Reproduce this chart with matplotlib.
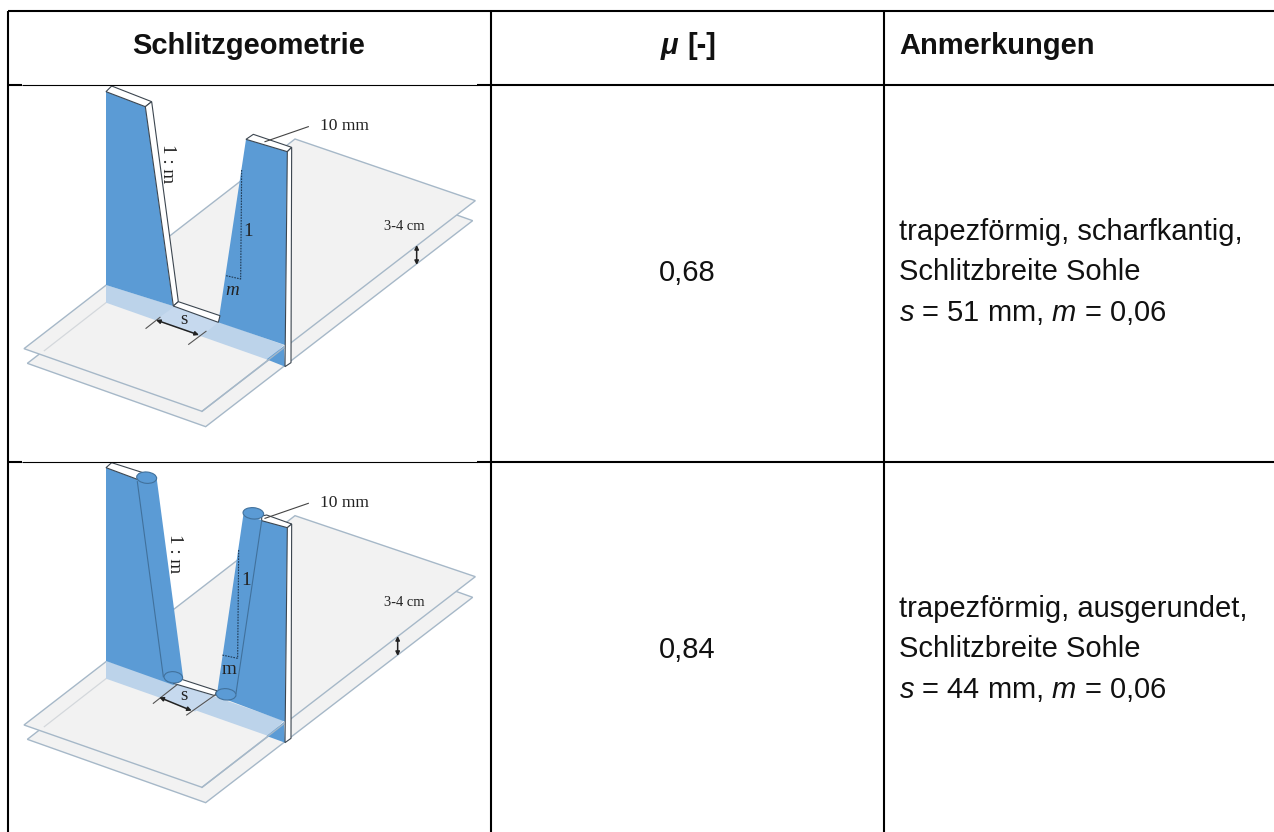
import matplotlib
matplotlib.use("Agg")
import matplotlib.pyplot as plt
from matplotlib.patches import Polygon, Ellipse

plt.rcParams["font.family"] = "Liberation Sans"
plt.rcParams["mathtext.fontset"] = "custom"
plt.rcParams["mathtext.rm"] = "Liberation Sans"
plt.rcParams["mathtext.it"] = "Liberation Sans:italic"

# Tabelleninhalt
kopf = ["Schlitzgeometrie", "[-]", "Anmerkungen"]
mu_werte = ["0,68", "0,84"]
anmerkungen = [
    ["trapezförmig, scharfkantig,", "Schlitzbreite Sohle", "$s$ = 51 mm, $m$ = 0,06"],
    ["trapezförmig, ausgerundet,", "Schlitzbreite Sohle", "$s$ = 44 mm, $m$ = 0,06"],
]

# Gitterlinien der Tabelle (Pixel)
spalten_x = [8, 490.5, 884]
zeilen_y = [11, 84.5, 462]

BLAU = "#5b9bd5"
HELLBLAU = "#bcd3ea"
MITTELBLAU = "#c6d9ee"
GRAU = "#f2f2f2"
KANTE = "#a6b8c8"
DUNKEL = "#3c4650"

# Skizzen, Koordinaten in 3-fach vergroesserten Pixeln
skizze1 = {
    "dy": 70,
    "platte_oben": [(72, 836), (885, 207), (1426, 392), (606, 1024)],
    "platte_unten": [(82, 880), (883, 262), (1418, 452), (617, 1070)],
    "innenlinie": [(133, 842), (318, 698)],
    "band": [(318, 645), (520, 708), (655, 755), (852, 825), (805, 870), (318, 698)],
    "schlitz": [(520, 712), (655, 757), (602, 800), (470, 748)],
    "dreieck": [(852, 828), (855, 890), (800, 868)],
    "wand_l": [(318, 65), (436, 110), (519, 708), (318, 645)],
    "wand_r": [(738, 208), (862, 245), (855, 825), (655, 757)],
    "weiss": [
        [(318, 65), (335, 48), (455, 95), (436, 110)],
        [(436, 110), (455, 95), (535, 695), (520, 708)],
        [(520, 708), (535, 695), (660, 737), (655, 757)],
        [(738, 208), (760, 193), (875, 232), (862, 245)],
        [(862, 245), (875, 232), (873, 878), (855, 890)],
    ],
    "ellipsen": [],
    "zyl_linien": [],
    "punkte": [(725, 300), (722, 627), (678, 617)],
    "kante_vorn": [(606, 1024), (852, 833)],
    "fuehrung": [(925, 170), (795, 215)],
    "pfeil_h": [(1250, 525), (1250, 585)],
    "pfeil_s": [(468, 750), (597, 795)],
    "striche": [[(438, 775), (480, 742)], [(566, 823), (618, 784)]],
    "texte": [
        ("1 : m", 503, 282, 19, -90, "normal"),
        ("1", 743, 483, 19, 0, "normal"),
        ("m", 697, 662, 19, 0, "italic"),
        ("s", 553, 750, 19, 0, "normal"),
        ("10 mm", 1033, 167, 17.5, 0, "normal"),
        ("3-4 cm", 1212, 468, 14.5, 0, "normal"),
    ],
}

skizze2 = {
    "dy": 450,
    "platte_oben": [(72, 825), (885, 197), (1426, 380), (606, 1012)],
    "platte_unten": [(82, 868), (883, 250), (1418, 442), (617, 1058)],
    "innenlinie": [(133, 830), (318, 686)],
    "band": [(318, 633), (520, 697), (645, 740), (852, 812), (805, 858), (318, 686)],
    "schlitz": [(525, 705), (645, 740), (585, 785), (480, 745)],
    "dreieck": [(852, 816), (855, 878), (800, 858)],
    "wand_l": [(318, 53), (412, 88), (470, 85), (549, 680), (520, 705), (318, 633)],
    "wand_r": [(730, 195), (785, 210), (862, 233), (855, 815), (650, 738)],
    "weiss": [
        [(318, 53), (335, 38), (435, 70), (412, 88)],
        [(785, 198), (800, 195), (875, 222), (862, 233), (785, 212)],
        [(862, 233), (875, 222), (873, 865), (855, 878)],
        [(520, 700), (545, 688), (650, 722), (645, 737)],
    ],
    "ellipsen": [(440, 83, 60, 34), (520, 682, 56, 34), (760, 190, 62, 34), (678, 733, 60, 34)],
    "zyl_linien": [[(412, 95), (490, 680)], [(785, 212), (708, 730)]],
    "punkte": [(716, 300), (713, 625), (666, 615)],
    "kante_vorn": [(606, 1012), (852, 821)],
    "fuehrung": [(925, 160), (795, 205)],
    "pfeil_h": [(1193, 558), (1193, 618)],
    "pfeil_s": [(478, 742), (575, 782)],
    "striche": [[(460, 760), (530, 705)], [(560, 795), (645, 735)]],
    "texte": [
        ("1 : m", 525, 312, 19, -90, "normal"),
        ("1", 738, 392, 19, 0, "normal"),
        ("m", 688, 660, 19, 0, "normal"),
        ("s", 553, 738, 19, 0, "normal"),
        ("10 mm", 1033, 158, 17.5, 0, "normal"),
        ("3-4 cm", 1212, 458, 14.5, 0, "normal"),
    ],
}

fig = plt.figure(figsize=(12.74, 8.32), dpi=100)
ax = fig.add_axes([0, 0, 1, 1])
ax.set_xlim(0, 1274)
ax.set_ylim(832, 0)
ax.axis("off")


def zeichne_skizze(sk):
    dy = sk["dy"]

    def pix(pts):
        return [(x / 3, y / 3 + dy) for x, y in pts]

    ax.add_patch(Polygon(pix(sk["platte_unten"]), fc=GRAU, ec=KANTE, lw=1, zorder=2))
    ax.add_patch(Polygon(pix(sk["platte_oben"]), fc=GRAU, ec=KANTE, lw=1, zorder=2.1))
    xs, ys = zip(*pix(sk["innenlinie"]))
    ax.plot(xs, ys, color="#d4d8dc", lw=0.9, zorder=2.2)
    ax.add_patch(Polygon(pix(sk["band"]), fc=HELLBLAU, ec="none", zorder=3))
    ax.add_patch(Polygon(pix(sk["schlitz"]), fc=MITTELBLAU, ec="none", zorder=3))
    ax.add_patch(Polygon(pix(sk["dreieck"]), fc=BLAU, ec="none", zorder=3.1))
    for name in ["wand_l", "wand_r"]:
        ax.add_patch(Polygon(pix(sk[name]), fc=BLAU, ec="none", zorder=3.2))
    for poly in sk["weiss"]:
        ax.add_patch(Polygon(pix(poly), fc="white", ec=DUNKEL, lw=0.8, zorder=3.3))

    xs, ys = zip(*pix(sk["kante_vorn"]))
    ax.plot(xs, ys, color=KANTE, lw=1, zorder=3.4)

    for linie in sk["zyl_linien"]:
        xs, ys = zip(*pix(linie))
        ax.plot(xs, ys, color="#41719c", lw=0.8, zorder=3.5)
    for x, y, b, h in sk["ellipsen"]:
        ax.add_patch(Ellipse((x / 3, y / 3 + dy), b / 3, h / 3, angle=5, fc=BLAU,
                             ec="#41719c", lw=0.8, zorder=3.6))

    xs, ys = zip(*pix(sk["punkte"]))
    ax.plot(xs, ys, color="#1f3a55", lw=0.8, ls=(0, (1.5, 1)), zorder=3.7)
    xs, ys = zip(*pix(sk["fuehrung"]))
    ax.plot(xs, ys, color="#444444", lw=0.8, zorder=3.7)
    for linie in sk["striche"]:
        xs, ys = zip(*pix(linie))
        ax.plot(xs, ys, color="#555555", lw=0.8, zorder=3.7)

    for key in ["pfeil_h", "pfeil_s"]:
        p = pix(sk[key])
        ax.annotate("", xy=p[1], xytext=p[0], zorder=3.8,
                    arrowprops=dict(arrowstyle="<|-|>", color="#222222", lw=1.1,
                                    mutation_scale=6, shrinkA=0, shrinkB=0))

    for txt, x, y, size, rot, stil in sk["texte"]:
        ax.text(x / 3, y / 3 + dy, txt, fontsize=size * 0.72, rotation=rot, style=stil,
                family="Liberation Serif", color="#222222", ha="center", va="center", zorder=4)


zeichne_skizze(skizze1)
zeichne_skizze(skizze2)

# Gitter
for x in spalten_x:
    ax.plot([x, x], [zeilen_y[0], 832], color="black", lw=1.5,
            solid_capstyle="butt", zorder=5)
ax.plot([spalten_x[0], 1274], [zeilen_y[0]] * 2, color="black", lw=1.5, solid_capstyle="butt", zorder=5)
for y in zeilen_y[1:]:
    # das Bild liegt ueber der Linie, dort bleibt sie nur duenn sichtbar
    ax.plot([spalten_x[0], 22], [y, y], color="black", lw=1.5, solid_capstyle="butt", zorder=5)
    ax.plot([22, 477], [y, y], color="black", lw=0.8, solid_capstyle="butt", zorder=5)
    ax.plot([477, 1274], [y, y], color="black", lw=1.5, solid_capstyle="butt", zorder=5)

# Kopfzeile
GR = 21
ax.text(249, 54, kopf[0], fontsize=GR, weight="bold", ha="center", va="baseline", color="#111111")
ax.text(661, 54, "μ", fontsize=GR, weight="bold", style="italic", ha="left", va="baseline", color="#111111")
ax.text(687, 54, kopf[1], fontsize=GR, weight="bold", ha="left", va="baseline", color="#111111")
ax.text(899, 54, kopf[2], fontsize=GR, weight="bold", ha="left", va="baseline", color="#111111")

# Werte und Anmerkungen
for wert, y in zip(mu_werte, [281, 658]):
    ax.text(687, y, wert, fontsize=GR, ha="center", va="baseline", color="#111111")
for zeilen, basis in zip(anmerkungen, [[240, 280, 321], [617, 657, 698]]):
    for txt, y in zip(zeilen, basis):
        ax.text(899, y, txt, fontsize=GR, ha="left", va="baseline", color="#111111")

fig.savefig("out.png", dpi=100)
